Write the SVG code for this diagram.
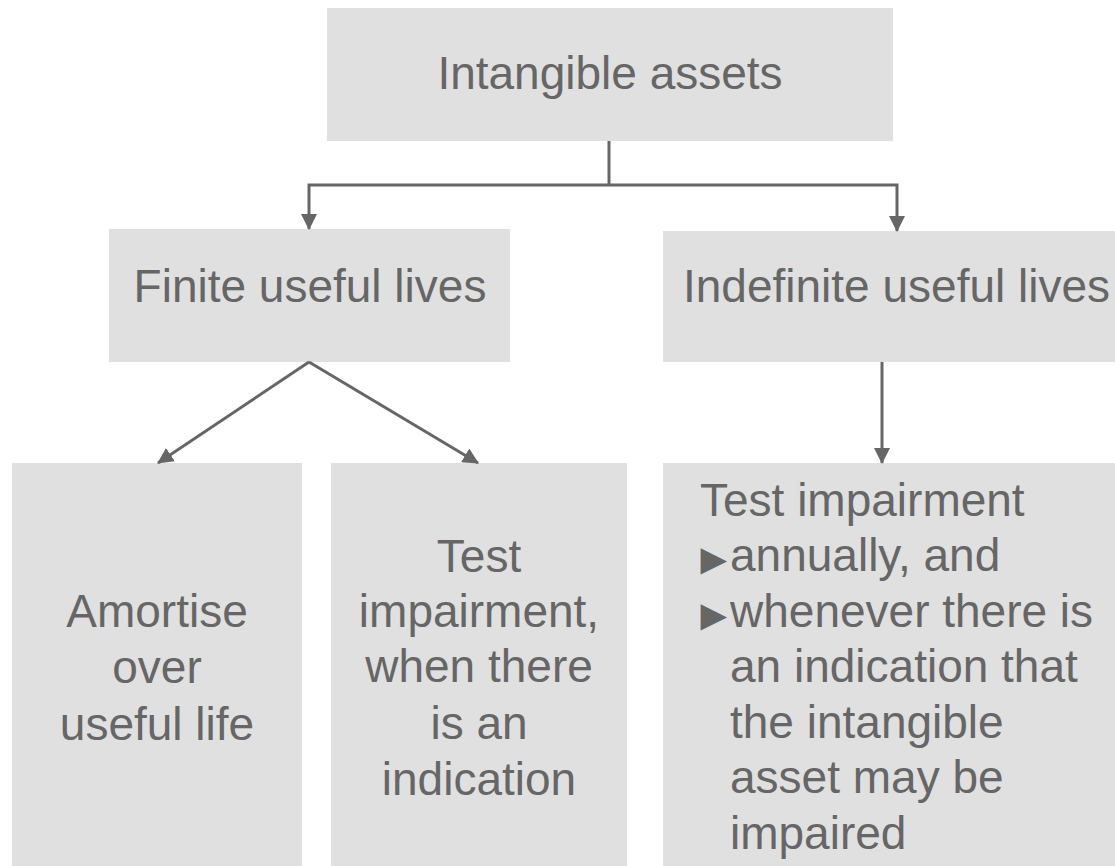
<svg xmlns="http://www.w3.org/2000/svg" width="1115" height="866" viewBox="0 0 1115 866">
  <style>
    .box { fill: #e0e0e0; }
    .lbl { font-family: "Liberation Sans", Arial, sans-serif; font-size: 46px; fill: #666666; }
    .mid { text-anchor: middle; }
    .bul { font-size: 44px; letter-spacing: -10px; }
    .conn { fill: none; stroke: #666666; stroke-width: 3; }
  </style>
  <defs>
    <marker id="arrow" viewBox="0 0 16 16" refX="15" refY="8" markerWidth="16" markerHeight="16" markerUnits="userSpaceOnUse" orient="auto">
      <path d="M0,0 L16,8 L0,16 Z" fill="#666666"/>
    </marker>
  </defs>
  <rect width="1115" height="866" fill="#ffffff"/>

  <g id="node-intangible">
    <rect class="box" x="327" y="8" width="566" height="133"/>
    <text class="lbl mid" x="610" y="89">Intangible assets</text>
  </g>

  <g id="node-finite">
    <rect class="box" x="109" y="229" width="401" height="133"/>
    <text class="lbl mid" x="310" y="302">Finite useful lives</text>
  </g>

  <g id="node-indefinite">
    <rect class="box" x="663" y="231" width="452" height="131"/>
    <text class="lbl" x="683" y="302">Indefinite useful lives</text>
  </g>

  <g id="node-amortise">
    <rect class="box" x="12" y="463" width="290" height="403"/>
    <text class="lbl mid" x="157" y="627">Amortise</text>
    <text class="lbl mid" x="157" y="683">over</text>
    <text class="lbl mid" x="157" y="740">useful life</text>
  </g>

  <g id="node-test-indication">
    <rect class="box" x="331" y="463" width="296" height="403"/>
    <text class="lbl mid" x="479" y="572">Test</text>
    <text class="lbl mid" x="479" y="627">impairment,</text>
    <text class="lbl mid" x="479" y="682">when there</text>
    <text class="lbl mid" x="479" y="739">is an</text>
    <text class="lbl mid" x="479" y="795">indication</text>
  </g>

  <g id="node-test-annual">
    <rect class="box" x="663" y="463" width="452" height="403"/>
    <text class="lbl" x="700" y="516">Test impairment</text>
    <text class="lbl" x="692" y="571"><tspan class="bul" x="692" y="574">►</tspan><tspan x="730" y="571">annually, and</tspan></text>
    <text class="lbl" x="692" y="627"><tspan class="bul" x="692" y="630">►</tspan><tspan x="730" y="627">whenever there is</tspan></text>
    <text class="lbl" x="730" y="682">an indication that</text>
    <text class="lbl" x="730" y="738">the intangible</text>
    <text class="lbl" x="730" y="793">asset may be</text>
    <text class="lbl" x="730" y="849">impaired</text>
  </g>

  <g id="connectors">
    <path class="conn" d="M609,141 V185"/>
    <path class="conn" d="M609,185 H309 V229" marker-end="url(#arrow)"/>
    <path class="conn" d="M609,185 H897 V231" marker-end="url(#arrow)"/>
    <path class="conn" d="M309,362 L158,463" marker-end="url(#arrow)"/>
    <path class="conn" d="M309,362 L478,463" marker-end="url(#arrow)"/>
    <path class="conn" d="M882,362 V463" marker-end="url(#arrow)"/>
  </g>
</svg>
